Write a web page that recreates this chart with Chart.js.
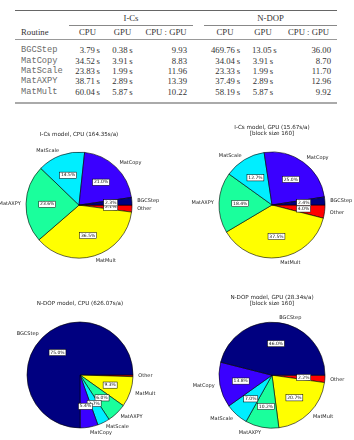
<!DOCTYPE html>
<html>
<head>
<meta charset="utf-8">
<script src="https://cdn.jsdelivr.net/npm/chart.js@4.4.0/dist/chart.umd.min.js"></script>
<style>
  body { margin: 0; width: 354px; height: 440px; background: #fff; position: relative; overflow: hidden; }
  #timings {
    position: absolute; left: 15px; top: 10px; width: 322px;
    border-collapse: collapse; table-layout: fixed;
    font-family: "Liberation Serif", "Times New Roman", serif; font-size: 8.7px; color: #333;
    border-top: 1px solid #666; border-bottom: 2px solid #aaa;
  }
  #timings td, #timings th { padding: 0 6px; font-weight: normal; white-space: nowrap; }
  #timings thead tr { height: 14.5px; }
  #timings .grp { text-align: center; border-bottom: 1px solid #888; }
  #timings thead tr.cols th { text-align: center; border-bottom: 1px solid #999; }
  #timings thead tr.cols th.lbl { text-align: left; }
  #timings tbody td { line-height: 10.33px; height: 10.33px; text-align: right; }
  #timings tbody td.name { text-align: left; font-family: "Liberation Mono", "Courier New", monospace; color: #6a6a6a; }
  #timings tbody td.mid { text-align: center; }
  #timings tbody tr:first-child td { padding-top: 5.3px; }
  #timings tbody tr:last-child td { padding-bottom: 5.5px; }
  canvas { position: absolute; }
</style>
</head>
<body>
<table id="timings">
  <colgroup>
    <col style="width:54px"><col style="width:37px"><col style="width:33px"><col style="width:54px">
    <col style="width:11px">
    <col style="width:42px"><col style="width:34px"><col style="width:57px">
  </colgroup>
  <thead>
    <tr><th></th><th class="grp" colspan="3">I-Cs</th><th></th><th class="grp" colspan="3">N-DOP</th></tr>
    <tr class="cols"><th class="lbl">Routine</th><th>CPU</th><th>GPU</th><th>CPU : GPU</th><th></th><th>CPU</th><th>GPU</th><th>CPU : GPU</th></tr>
  </thead>
  <tbody id="rows"></tbody>
</table>
<canvas id="icsCpuPie"></canvas>
<canvas id="icsGpuPie"></canvas>
<canvas id="ndopCpuPie"></canvas>
<canvas id="ndopGpuPie"></canvas>
<script>
// timings per routine (seconds per model year)
const routines = ['BGCStep', 'MatCopy', 'MatScale', 'MatAXPY', 'MatMult'];
const icsCpu = [3.79, 34.52, 23.83, 38.71, 60.04];
const icsGpu = [0.38, 3.91, 1.99, 2.89, 5.87];
const icsRatio = [9.93, 8.83, 11.96, 13.39, 10.22];
const ndopCpu = [469.76, 34.04, 23.33, 37.49, 58.19];
const ndopGpu = [13.05, 3.91, 1.99, 2.89, 5.87];
const ndopRatio = [36.00, 8.70, 11.70, 12.96, 9.92];

// remaining time not spent in the routines above: I-Cs CPU, I-Cs GPU, N-DOP CPU, N-DOP GPU
const otherTime = [3.46, 0.63, 3.26, 0.63];

const sliceLabels = [...routines, 'Other'];
const sliceColors = ['#000080', '#3a00ff', '#00eeff', '#1aff9c', '#ffff00', '#ff0000'];

const pieTitles = [
  ['I-Cs model, CPU (164.35s/a)'],
  ['I-Cs model, GPU (15.67s/a)', '[block size 160]'],
  ['N-DOP model, CPU (626.07s/a)'],
  ['N-DOP model, GPU (28.34s/a)', '[block size 160]']
];

// ---- table ----
const sec = v => v.toFixed(2) + '\u2009s';
document.getElementById('rows').innerHTML = routines.map((r, i) => `
  <tr>
    <td class="name">${r}</td>
    <td>${sec(icsCpu[i])}</td><td class="mid">${sec(icsGpu[i])}</td><td>${icsRatio[i].toFixed(2)}</td>
    <td></td>
    <td>${sec(ndopCpu[i])}</td><td class="mid">${sec(ndopGpu[i])}</td><td>${ndopRatio[i].toFixed(2)}</td>
  </tr>`).join('');

// ---- pies ----
// labels outside (1.1 r) and percentages in white boxes (0.6 r), like matplotlib's pie
const sliceText = {
  id: 'sliceText',
  afterDatasetsDraw(chart) {
    const ctx = chart.ctx;
    const ds = chart.data.datasets[0];
    const total = ds.data.reduce((a, b) => a + b, 0);
    chart.getDatasetMeta(0).data.forEach((arc, i) => {
      const { x, y, startAngle, endAngle, outerRadius } =
        arc.getProps(['x', 'y', 'startAngle', 'endAngle', 'outerRadius'], true);
      const mid = (startAngle + endAngle) / 2;
      const cos = Math.cos(mid), sin = Math.sin(mid);
      ctx.save();
      ctx.textBaseline = 'middle';
      ctx.font = '5px "DejaVu Sans"';
      ctx.fillStyle = '#222';
      ctx.textAlign = cos > 0 ? 'left' : 'right';
      ctx.fillText(chart.data.labels[i], x + cos * outerRadius * 1.1, y + sin * outerRadius * 1.1);

      const pct = ds.data[i] / total * 100;
      if (pct >= 1) {
        const txt = pct.toFixed(1) + '%';
        ctx.font = '4.5px "DejaVu Sans"';
        const w = ctx.measureText(txt).width;
        const px = x + cos * outerRadius * 0.6, py = y + sin * outerRadius * 0.6;
        ctx.fillStyle = '#fff';
        ctx.strokeStyle = '#000';
        ctx.lineWidth = 0.5;
        ctx.fillRect(px - w / 2 - 1.3, py - 3.1, w + 2.6, 6.2);
        ctx.strokeRect(px - w / 2 - 1.3, py - 3.1, w + 2.6, 6.2);
        ctx.fillStyle = '#111';
        ctx.textAlign = 'center';
        ctx.fillText(txt, px, py);
      }
      ctx.restore();
    });
  }
};

const R = 53;           // pie radius
const titleSize = 5.6;
const titleLH = 1.15;
const panels = [
  { id: 'icsCpuPie',  values: [...icsCpu, otherTime[0]],  title: pieTitles[0], cx: 79,  cy: 205, ty: 134 },
  { id: 'icsGpuPie',  values: [...icsGpu, otherTime[1]],  title: pieTitles[1], cx: 272, cy: 205, ty: 127.3 },
  { id: 'ndopCpuPie', values: [...ndopCpu, otherTime[2]], title: pieTitles[2], cx: 80,  cy: 375, ty: 303.3 },
  { id: 'ndopGpuPie', values: [...ndopGpu, otherTime[3]], title: pieTitles[3], cx: 272, cy: 375, ty: 296.8 }
];

panels.forEach(p => {
  const lh = titleSize * titleLH;
  const padTop = 2, gap = 2, padBottom = 16;
  const top = p.ty - padTop - lh / 2;
  const titleBottomPad = (p.cy - R - gap) - top - padTop - p.title.length * lh;
  const cv = document.getElementById(p.id);
  cv.width = 176;
  cv.height = Math.round((p.cy + R + gap) - top + padBottom);
  cv.style.left = (p.cx - 88) + 'px';
  cv.style.top = top + 'px';

  // matplotlib draws counter-clockwise from 3 o'clock; Chart.js goes clockwise, so reverse
  new Chart(cv, {
    type: 'pie',
    data: {
      labels: [...sliceLabels].reverse(),
      datasets: [{
        data: [...p.values].reverse(),
        backgroundColor: [...sliceColors].reverse(),
        borderColor: '#000',
        borderWidth: 0.6
      }]
    },
    options: {
      responsive: false,
      animation: false,
      devicePixelRatio: 1,
      events: [],
      rotation: 90,
      radius: R,
      layout: { padding: { top: 0, left: 0, right: 0, bottom: cv.height - Math.round((p.cy + R + gap) - top) } },
      plugins: {
        legend: { display: false },
        tooltip: { enabled: false },
        title: {
          display: true,
          text: p.title,
          color: '#222',
          font: { family: 'DejaVu Sans', size: titleSize, weight: 'normal', lineHeight: titleLH },
          padding: { top: padTop, bottom: titleBottomPad }
        }
      }
    },
    plugins: [sliceText]
  });
});
</script>
</body>
</html>
